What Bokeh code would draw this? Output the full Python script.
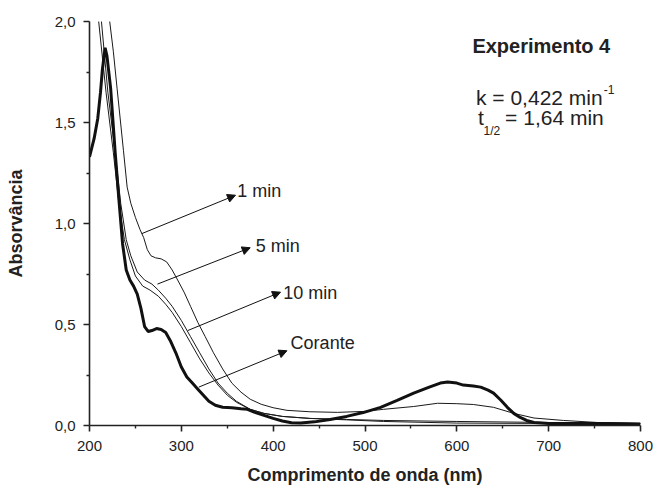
from bokeh.plotting import figure
from bokeh.models import (Range1d, FixedTicker, CustomJSTickFormatter, Label, Arrow, NormalHead)
from bokeh.embed import file_html
from bokeh.resources import INLINE

# ---------------- data ----------------
corante_nm = [200, 205, 209, 212, 214, 217, 219, 223, 228, 232, 236, 240, 244, 248, 252, 256, 260,
              264, 268, 273, 278, 283, 288, 294, 300, 306, 312, 318, 324, 330, 337, 345, 355, 365,
              372, 380, 390, 400, 410, 420, 430, 445, 462, 480, 498, 517, 535, 553, 570, 582, 590,
              600, 607, 618, 626, 634, 640, 648, 655, 662, 669, 676, 684, 700, 750, 800]
corante_abs = [1.33, 1.42, 1.52, 1.65, 1.76, 1.87, 1.83, 1.67, 1.35, 1.12, 0.90, 0.77, 0.72, 0.69, 0.65,
               0.58, 0.49, 0.465, 0.47, 0.48, 0.475, 0.46, 0.42, 0.36, 0.29, 0.24, 0.21, 0.18, 0.15,
               0.12, 0.10, 0.09, 0.088, 0.083, 0.08, 0.065, 0.05, 0.035, 0.022, 0.014, 0.012, 0.018,
               0.03, 0.045, 0.064, 0.09, 0.124, 0.16, 0.19, 0.21, 0.215, 0.21, 0.20, 0.195, 0.19,
               0.175, 0.16, 0.125, 0.09, 0.06, 0.04, 0.025, 0.015, 0.01, 0.01, 0.008]

min1_nm = [218, 222, 226, 230, 237, 241, 245, 250, 255, 259, 263, 267, 272, 278, 284, 290, 296, 303,
           310, 318, 326, 335, 345, 355, 365, 375, 387, 400, 415, 440, 470, 500, 520, 553, 579, 600,
           618, 640, 662, 684, 716, 753, 800]
min1_abs = [2.3, 2.0, 1.85, 1.67, 1.36, 1.18, 1.10, 1.03, 0.97, 0.93, 0.87, 0.84, 0.83, 0.825, 0.81,
            0.77, 0.72, 0.66, 0.59, 0.51, 0.44, 0.36, 0.28, 0.21, 0.165, 0.13, 0.105, 0.088, 0.075,
            0.068, 0.065, 0.07, 0.08, 0.094, 0.11, 0.108, 0.104, 0.09, 0.06, 0.037, 0.025, 0.015, 0.01]

min5_nm = [207, 213, 220, 228, 234, 240, 245, 252, 260, 268, 275, 283, 290, 300, 310, 320, 330, 340,
           350, 360, 375, 390, 410, 440, 480, 520, 600, 700, 800]
min5_abs = [2.25, 2.0, 1.65, 1.35, 1.10, 0.92, 0.84, 0.76, 0.72, 0.70, 0.67, 0.63, 0.59, 0.52, 0.44,
            0.36, 0.28, 0.21, 0.16, 0.12, 0.08, 0.06, 0.045, 0.035, 0.03, 0.025, 0.02, 0.015, 0.01]

min10_nm = [205, 210, 218, 226, 232, 238, 244, 250, 258, 266, 275, 283, 290, 300, 310, 320, 330, 340,
            350, 360, 375, 390, 410, 440, 480, 520, 600, 700, 800]
min10_abs = [2.3, 2.0, 1.65, 1.35, 1.10, 0.92, 0.82, 0.74, 0.69, 0.67, 0.64, 0.60, 0.56, 0.49, 0.41,
             0.33, 0.26, 0.20, 0.15, 0.115, 0.08, 0.06, 0.045, 0.035, 0.028, 0.02, 0.012, 0.01, 0.008]

x_ticks = [200, 300, 400, 500, 600, 700, 800]
x_minor = [250, 350, 450, 550, 650, 750]
y_ticks = [0.0, 0.5, 1.0, 1.5, 2.0]
y_minor = [0.25, 0.75, 1.25, 1.75]

FONT = "Liberation Sans"

p = figure(width=655, height=487, output_backend="svg", toolbar_location=None,
           x_range=Range1d(200, 800), y_range=Range1d(0, 2.0),
           min_border_left=89, min_border_right=15, min_border_top=21, min_border_bottom=62)
p.background_fill_color = "white"
p.border_fill_color = "white"
p.outline_line_color = None
p.xgrid.visible = False
p.ygrid.visible = False

# curves
p.line(min10_nm, min10_abs, line_color="#1a1a1a", line_width=1)
p.line(min5_nm, min5_abs, line_color="#1a1a1a", line_width=1)
p.line(min1_nm, min1_abs, line_color="#1a1a1a", line_width=1)
p.line(corante_nm, corante_abs, line_color="#111111", line_width=3)

# axes
for ax in (p.xaxis[0], p.yaxis[0]):
    ax.axis_line_color = "#222222"
    ax.axis_line_width = 1.6
    ax.major_tick_line_color = "#222222"
    ax.major_tick_line_width = 1.6
    ax.minor_tick_line_color = "#222222"
    ax.minor_tick_line_width = 1.4
    ax.major_tick_in = 0
    ax.major_tick_out = 6
    ax.minor_tick_in = 0
    ax.minor_tick_out = 3
    ax.major_label_text_font = FONT
    ax.major_label_text_font_size = "15px"
    ax.major_label_text_color = "#222222"
    ax.axis_label_text_font = FONT
    ax.axis_label_text_font_size = "18px"
    ax.axis_label_text_font_style = "bold"
    ax.axis_label_text_color = "#222222"

p.xaxis.ticker = FixedTicker(ticks=x_ticks, minor_ticks=x_minor)
p.yaxis.ticker = FixedTicker(ticks=y_ticks, minor_ticks=y_minor)
p.yaxis.formatter = CustomJSTickFormatter(code="return tick.toFixed(1).replace('.', ',');")
p.xaxis.axis_label = "Comprimento de onda (nm)"
p.yaxis.axis_label = "Absorvância"
p.xaxis.major_label_standoff = 9
p.yaxis.major_label_standoff = 8
p.xaxis.axis_label_standoff = 11
p.yaxis.axis_label_standoff = 26

# arrows and labels
arrows = [
    ((257, 0.95), (359, 1.14), (361, 1.16), "1 min"),
    ((274, 0.70), (375, 0.88), (381, 0.89), "5 min"),
    ((307, 0.47), (408, 0.66), (411, 0.655), "10 min"),
    ((319, 0.19), (415, 0.37), (419, 0.41), "Corante"),
]
for (x0, y0), (x1, y1), (lx, ly), txt in arrows:
    p.add_layout(Arrow(x_start=x0, y_start=y0, x_end=x1, y_end=y1, line_width=1, line_color="#111111",
                       end=NormalHead(size=8, fill_color="#111111", line_color="#111111", line_width=1)))
    p.add_layout(Label(x=lx, y=ly, text=txt, text_font=FONT, text_font_size="18px",
                       text_color="#222222", text_align="left", text_baseline="middle"))

p.add_layout(Label(x=692, y=1.881, text="Experimento 4", text_font=FONT, text_font_size="20px",
                   text_font_style="bold", text_color="#222222", text_align="center",
                   text_baseline="middle"))
p.add_layout(Label(x=758.8, y=1.624, text="k = 0,422 min", text_font=FONT, text_font_size="21px",
                   text_color="#222222", text_align="right", text_baseline="middle"))
p.add_layout(Label(x=759.9, y=1.663, text="-1", text_font=FONT, text_font_size="12px",
                   text_color="#222222", text_align="left", text_baseline="middle"))
p.add_layout(Label(x=623, y=1.527, text="t", text_font=FONT, text_font_size="21px",
                   text_color="#222222", text_align="left", text_baseline="middle"))
p.add_layout(Label(x=629, y=1.46, text="1/2", text_font=FONT, text_font_size="12px",
                   text_color="#222222", text_align="left", text_baseline="middle"))
p.add_layout(Label(x=760, y=1.527, text="= 1,64 min", text_font=FONT, text_font_size="21px",
                   text_color="#222222", text_align="right", text_baseline="middle"))

open("out.html", "w").write(file_html(p, INLINE))
